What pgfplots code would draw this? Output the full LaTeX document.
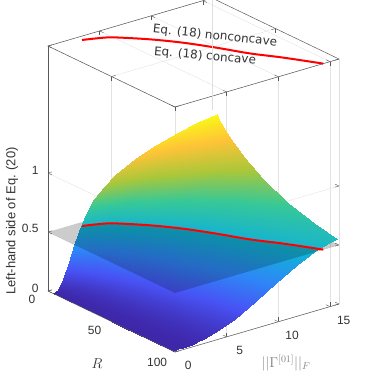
\documentclass[border=0pt]{standalone}
\usepackage{pgfplots}
\usepackage{pgfplotstable}
\pgfplotsset{compat=1.18}
\usepackage{fontspec}
\setmainfont{Liberation Sans}
\newfontfamily\eqfont{DejaVu Sans}
\definecolor{tk}{gray}{0.2}
\definecolor{bx}{gray}{0.35}
\pgfplotstableread{
x y z
0 4 0
0.5 4 0.02
1 4 0.10
1.5 4 0.225
2 4 0.36
2.5 4 0.465
3 4 0.555
3.5 4 0.635
4 4 0.70
5 4 0.785
6 4 0.85
8 4 0.94
10 4 1.005
12 4 1.055
14 4 1.09
15.87 4 1.116
0 5 0
0.5 5 0.016
1 5 0.064
1.5 5 0.147
2 5 0.267
2.5 5 0.379
3 5 0.49
3.5 5 0.575
4 5 0.64
5 5 0.735
6 5 0.81
8 5 0.906
10 5 0.977
12 5 1.02
14 5 1.05
15.87 5 1.083
0 7 0
0.5 7 0.011
1 7 0.045
1.5 7 0.103
2 7 0.19
2.5 7 0.293
3 7 0.387
3.5 7 0.474
4 7 0.53
5 7 0.62
6 7 0.70
8 7 0.84
10 7 0.923
12 7 0.98
14 7 1.02
15.87 7 1.05
0 10 0
0.5 10 0.008
1 10 0.031
1.5 10 0.072
2 10 0.13
2.5 10 0.21
3 10 0.295
3.5 10 0.373
4 10 0.449
5 10 0.54
6 10 0.615
8 10 0.755
10 10 0.86
12 10 0.924
14 10 0.974
15.87 10 1.01
0 15 0
0.5 15 0.005
1 15 0.021
1.5 15 0.047
2 15 0.086
2.5 15 0.135
3 15 0.20
3.5 15 0.272
4 15 0.337
5 15 0.46
6 15 0.535
8 15 0.655
10 15 0.766
12 15 0.85
14 15 0.909
15.87 15 0.955
0 25 0
0.5 25 0.002
1 25 0.012
1.5 25 0.028
2 25 0.05
2.5 25 0.08
3 25 0.115
3.5 25 0.16
4 25 0.215
5 25 0.32
6 25 0.42
8 25 0.545
10 25 0.635
12 25 0.725
14 25 0.80
15.87 25 0.86
0 40 0
0.5 40 0.002
1 40 0.008
1.5 40 0.018
2 40 0.031
2.5 40 0.049
3 40 0.072
3.5 40 0.098
4 40 0.13
5 40 0.21
6 40 0.295
8 40 0.449
10 40 0.54
12 40 0.61
14 40 0.685
15.87 40 0.75
0 60 0
0.5 60 0.001
1 60 0.005
1.5 60 0.011
2 60 0.021
2.5 60 0.033
3 60 0.047
3.5 60 0.066
4 60 0.086
5 60 0.135
6 60 0.20
8 60 0.337
10 60 0.46
12 60 0.535
14 60 0.588
15.87 60 0.65
0 80 0
0.5 80 0.001
1 80 0.003
1.5 80 0.008
2 80 0.016
2.5 80 0.025
3 80 0.036
3.5 80 0.048
4 80 0.064
5 80 0.10
6 80 0.147
8 80 0.267
10 80 0.379
12 80 0.482
14 80 0.54
15.87 80 0.58
0 98.5 0
0.5 98.5 0.001
1 98.5 0.002
1.5 98.5 0.007
2 98.5 0.012
2.5 98.5 0.02
3 98.5 0.028
3.5 98.5 0.04
4 98.5 0.051
5 98.5 0.081
6 98.5 0.117
8 98.5 0.218
10 98.5 0.324
12 98.5 0.424
14 98.5 0.507
15.87 98.5 0.545
}\surfdata
\pgfplotstableread{
x y z
2.80 4 0.5
3.89 6.7 0.5
4.99 10.5 0.5
6.97 23.6 0.5
8.54 36.9 0.5
9.93 52 0.5
11.21 67.7 0.5
12.70 82 0.5
14.35 100 0.5
}\redlow
\pgfplotstableread{
x y z
2.80 4 2.076
3.89 6.7 2.076
4.99 10.5 2.076
6.97 23.6 2.076
8.54 36.9 2.076
9.93 52 2.076
11.21 67.7 2.076
12.70 82 2.076
14.35 100 2.076
}\redhigh
\pgfplotsset{
  colormap={oldparula}{
    rgb=(0.2422,0.1504,0.6603)
    rgb=(0.2810,0.3228,0.9579)
    rgb=(0.1786,0.5289,0.9682)
    rgb=(0.0689,0.6948,0.8394)
    rgb=(0.2161,0.7843,0.5923)
    rgb=(0.6720,0.7793,0.2227)
    rgb=(0.9970,0.7659,0.2199)
    rgb=(0.9769,0.9839,0.0805)
  }
}
\begin{document}
\begin{tikzpicture}[x=1bp,y=1bp]
\path[use as bounding box] (-48,-98) rectangle (326,291);
\begin{axis}[
  anchor=origin, at={(0,0)},
  x={(10.334bp,3.025bp)}, y={(1.27bp,-0.61bp)}, z={(0bp,118bp)},
  xmin=0,xmax=15.87,ymin=0,ymax=100,zmin=0,zmax=2.076,
  xtick={0,5,10,15}, ytick={0,50,100}, ztick={0,0.5,1},
  yticklabels={0,50,100},
  grid=major, major grid style={gray!22,line width=0.4bp},
  axis line style={draw=none},
  tick style={draw=bx,line width=0.4bp},
  clip=false,
  colormap name=oldparula,
  point meta min=0, point meta max=1.116,
  tick label style={font=\fontsize{12}{12}\selectfont,text=tk},
  x tick label style={xshift=8bp,yshift=-5bp},
  y tick label style={xshift=-10bp,yshift=0bp},
  z tick label style={xshift=-6bp,yshift=2.5bp},
  /pgf/number format/assume math mode=true,
]
\addplot3[fill=black,fill opacity=0.2,draw=none,forget plot] coordinates {
 (2.80,0,0.5) (15.87,0,0.5) (15.87,100,0.5) (14.35,100,0.5) (12.70,82,0.5) (11.21,67.7,0.5) (9.93,52,0.5) (8.54,36.9,0.5) (6.97,23.6,0.5) (4.99,10.5,0.5) (3.89,6.7,0.5) (2.80,4,0.5)};
\addplot3[surf,shader=interp,mesh/cols=16,forget plot] table[x=x,y=y,z=z] {\surfdata};
\addplot3[fill=black,fill opacity=0.2,draw=none,forget plot] coordinates {
 (0,0,0.5) (2.80,0,0.5) (2.80,4,0.5) (3.89,6.7,0.5) (4.99,10.5,0.5) (6.97,23.6,0.5) (8.54,36.9,0.5) (9.93,52,0.5) (11.21,67.7,0.5) (12.70,82,0.5) (14.35,100,0.5) (0,100,0.5)};
\addplot3[red,line width=2bp,no marks,smooth,forget plot] table[x=x,y=y,z=z] {\redlow};
\addplot3[red,line width=2bp,no marks,smooth,forget plot] table[x=x,y=y,z=z] {\redhigh};
\draw[bx,line width=0.5bp] (axis cs:0,0,2.076)--(axis cs:15.87,0,2.076)--(axis cs:15.87,100,2.076)--(axis cs:0,100,2.076)--cycle;
\draw[bx,line width=0.5bp] (axis cs:0,0,0)--(axis cs:0,0,2.076);
\draw[gray!25,line width=0.5bp] (axis cs:15.87,100,0)--(axis cs:15.87,100,2.076);
\draw[gray!25,line width=0.5bp] (axis cs:15.87,0,1.125)--(axis cs:15.87,0,2.076);
\draw[bx,line width=0.5bp] (axis cs:0,100,0)--(axis cs:15.87,100,0);
\draw[bx,line width=0.5bp] (axis cs:0,0,0)--(axis cs:0,100,0);
\end{axis}
\node[rotate=90,font=\fontsize{13}{13}\selectfont,text=tk] at (-36,70) {Left-hand side of Eq. (20)};
\node[font=\fontsize{15}{15}\selectfont,text=tk] at (49,-73) {$R$};
\node[font=\fontsize{14}{14}\selectfont,text=gray] at (238,-72) {$||\Gamma^{[01]}||_F$};
\node[rotate=-6,font=\eqfont\fontsize{12}{12}\selectfont,text=tk] at (167,255) {Eq. (18) nonconcave};
\node[rotate=-5,font=\eqfont\fontsize{12}{12}\selectfont,text=tk] at (157,234.5) {Eq. (18) concave};
\end{tikzpicture}
\end{document}
